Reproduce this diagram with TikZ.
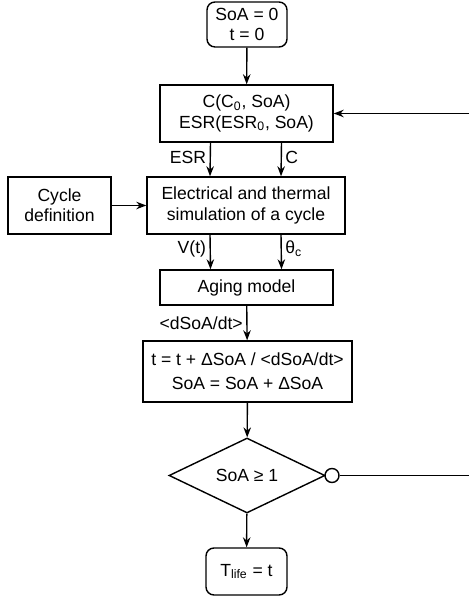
\documentclass[tikz,border=0pt]{standalone}
\usepackage{fontspec}
\setmainfont{Liberation Sans}
\usetikzlibrary{shapes.geometric,arrows.meta}

\tikzstyle{caja}= [rectangle,draw,black,thick,align=center,inner sep=0pt,font=\fontsize{10}{11.5}\selectfont]
\tikzstyle{extremo}= [caja,rounded corners=0.16cm]
\tikzstyle{rombo}= [diamond,draw,black,thick,inner sep=0pt,minimum width=3.12cm,minimum height=1.5cm,font=\fontsize{10}{11.5}\selectfont]
\tikzstyle{flecha}= [-{Stealth[length=2mm,width=1.5mm]}]
\tikzstyle{etiq}= [font=\fontsize{10}{11.5}\selectfont,inner sep=2pt]

\begin{document}
\begin{tikzpicture}
		\useasboundingbox (0,0) rectangle (9.38,12.02);

		\node (s) at (4.94,11.53) [extremo,minimum width=1.6cm,minimum height=0.9cm] {SoA = 0\\t = 0};

		\node (p) at (4.93,9.75) [caja,minimum width=3.46cm,minimum height=1.14cm] {C(C\textsubscript{0}, SoA)\\ESR(ESR\textsubscript{0}, SoA)};

		\node (sim) at (4.92,7.91) [caja,minimum width=3.96cm,minimum height=1.14cm] {Electrical and thermal\\simulation of a cycle};

		\node (ciclo) at (1.19,7.91) [caja,minimum width=2.06cm,minimum height=1.14cm] {Cycle\\definition};

		\node (env) at (4.93,6.27) [caja,minimum width=3.46cm,minimum height=0.7cm] {Aging model};

		\node (act) at (4.95,4.59) [caja,minimum width=4.18cm,minimum height=1.22cm] {t = t + ΔSoA / <dSoA/dt>\\[2pt]SoA = SoA + ΔSoA};

		\node (r) at (4.94,2.51) [rombo] {SoA ≥ 1};
		\node (o) at (6.64,2.51) [circle,draw,black,thick,fill=white,inner sep=0pt,minimum size=0.28cm] {};

		\node (fin) at (4.93,0.59) [extremo,minimum width=1.62cm,minimum height=0.94cm] {T\textsubscript{life} = t};

		\coordinate (ra) at (9.38,2.51);
		\coordinate (rb) at (9.38,9.75);

		\path[black,thick] (s) edge[flecha] node {} (p);
		\path[black,thick] ([xshift=-0.72cm]p.south) edge[flecha] node[etiq,left,pos=0.45] {ESR} ([xshift=-0.72cm]sim.north);
		\path[black,thick] ([xshift=0.70cm]p.south) edge[flecha] node[etiq,right,pos=0.45] {C} ([xshift=0.70cm]sim.north);

		\path[black,thick] (ciclo) edge[flecha] node {} (sim);

		\path[black,thick] ([xshift=-0.72cm]sim.south) edge[flecha] node[etiq,left,pos=0.4] {V(t)} ([xshift=-0.72cm]env.north);
		\path[black,thick] ([xshift=0.70cm]sim.south) edge[flecha] node[etiq,right,pos=0.4] {θ\textsubscript{c}} ([xshift=0.70cm]env.north);

		\path[black,thick] (env) edge[flecha] node[etiq,left] {<dSoA/dt>} (act);
		\path[black,thick] (act) edge[flecha] node {} (r);
		\path[black,thick] (r) edge[flecha] node {} (fin);

		\path[black,thick] (o) edge[] node {} (ra);
		\path[black,thick] (rb) edge[flecha] node {} (p);

		\end{tikzpicture}
\end{document}
